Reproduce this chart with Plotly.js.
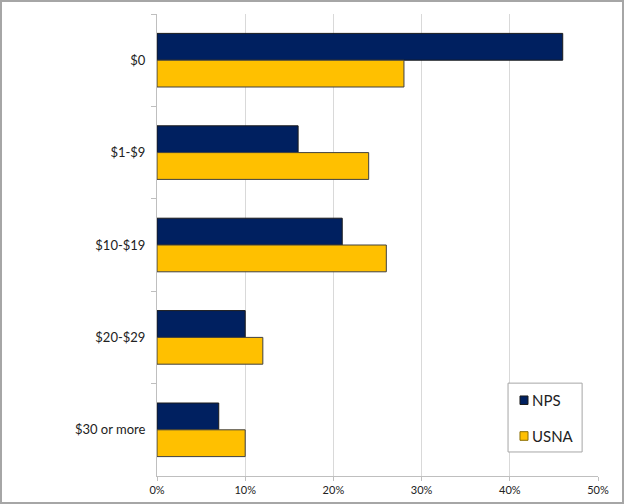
<!DOCTYPE html>
<html><head><meta charset="utf-8">
<script src="https://cdn.plot.ly/plotly-3.0.1.min.js"></script>
<style>
body{margin:0;padding:0;background:#fff;}
#wrap{position:relative;width:624px;height:504px;}
#chart{width:624px;height:504px;}
#frame{position:absolute;left:0;top:0;width:620px;height:500px;border:2px solid #a6a6a6;pointer-events:none;}
</style>
</head><body>
<div id="wrap"><div id="chart"></div><div id="frame"></div></div>
<script>
const categories = ["$0", "$1-$9", "$10-$19", "$20-$29", "$30 or more"];
const npsValues = [0.46, 0.16, 0.21, 0.10, 0.07];
const usnaValues = [0.28, 0.24, 0.26, 0.12, 0.10];
const seriesNames = ["NPS", "USNA"];
const seriesColors = ["#002060", "#FFC000"];
const xTickValues = [0, 0.1, 0.2, 0.3, 0.4, 0.5];

const fontFam = "Lato, 'Open Sans', sans-serif";
const traces = [
  {type:"bar", orientation:"h", name:seriesNames[0], y:categories, x:npsValues, showlegend:false,
   marker:{color:seriesColors[0], line:{color:"#1a1a1a", width:1}}},
  {type:"bar", orientation:"h", name:seriesNames[1], y:categories, x:usnaValues, showlegend:false,
   marker:{color:seriesColors[1], line:{color:"#404040", width:1}}}
];

// custom legend (box + swatches + labels) in paper coordinates
const shapes = [
  {type:"rect", xref:"paper", yref:"paper", x0:0.796, x1:0.964, y0:0.052, y1:0.201,
   line:{color:"#a6a6a6", width:1}, fillcolor:"#fff", layer:"above"},
  {type:"rect", xref:"paper", yref:"paper", x0:0.8231, x1:0.8413, y0:0.1548, y1:0.1732,
   line:{color:"#1a1a1a", width:1}, fillcolor:seriesColors[0], layer:"above"},
  {type:"rect", xref:"paper", yref:"paper", x0:0.8231, x1:0.8413, y0:0.0773, y1:0.0959,
   line:{color:"#8a6d00", width:1}, fillcolor:seriesColors[1], layer:"above"}
];
const annotations = [
  {xref:"paper", yref:"paper", x:0.8458, y:0.1645, xanchor:"left", yanchor:"middle", showarrow:false,
   text:seriesNames[0], font:{size:15, color:"#222", family:fontFam}},
  {xref:"paper", yref:"paper", x:0.8458, y:0.0866, xanchor:"left", yanchor:"middle", showarrow:false,
   text:seriesNames[1], font:{size:15, color:"#222", family:fontFam}}
];

const layout = {
  width:624, height:504,
  margin:{l:157, r:26, t:14, b:28},
  paper_bgcolor:"rgba(0,0,0,0)", plot_bgcolor:"#fff",
  barmode:"group", bargap:0.42, bargroupgap:0,
  font:{family:fontFam, color:"#222"},
  xaxis:{range:[0,0.5], tickvals:xTickValues, tickformat:".0%", showgrid:true, gridcolor:"#d9d9d9",
         gridwidth:1, zeroline:false, showline:true, linecolor:"#bfbfbf", ticks:"outside", ticklen:4,
         tickcolor:"#bfbfbf", tickfont:{size:11, color:"#222"}, fixedrange:true},
  yaxis:{autorange:"reversed", type:"category", showline:true, linecolor:"#bfbfbf", ticks:"outside",
         tickson:"boundaries", ticklen:5, tickcolor:"#bfbfbf", showgrid:false, ticklabelstandoff:8,
         tickfont:{size:13, color:"#222"}, fixedrange:true},
  showlegend:false,
  shapes:shapes,
  annotations:annotations
};
Plotly.newPlot("chart", traces, layout, {displayModeBar:false, staticPlot:true});
</script>
</body></html>
